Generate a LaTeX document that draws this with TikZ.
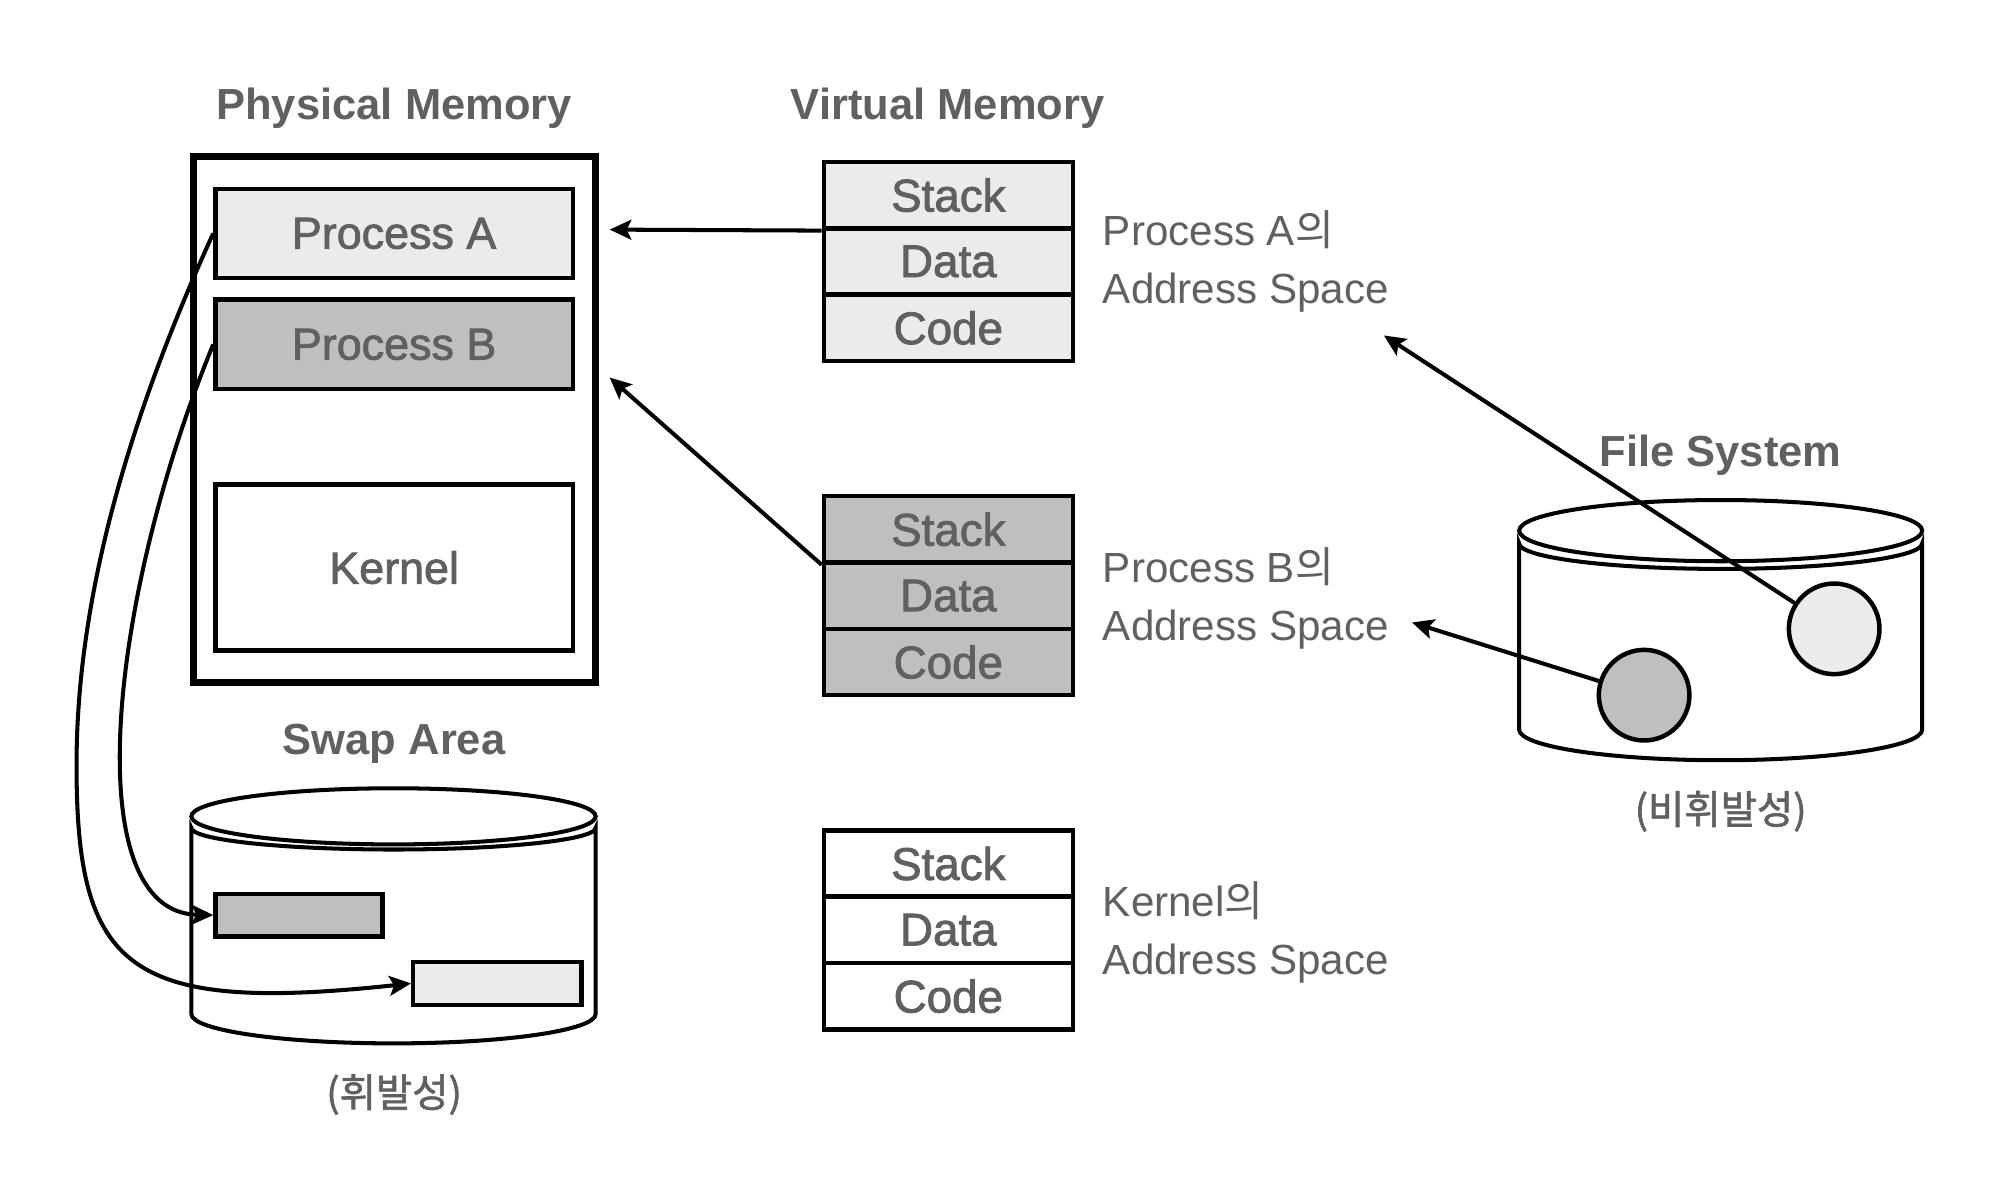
\documentclass[tikz,border=0pt]{standalone}
\usepackage{fontspec}
\setmainfont{Liberation Sans}
\newfontfamily\medium[FakeBold=1.8]{Liberation Sans}
\newfontfamily\kr{Noto Sans CJK KR}
\newfontfamily\krm[FakeBold=1.6]{Noto Sans CJK KR}
\usetikzlibrary{arrows.meta}
\definecolor{txt}{HTML}{606060}
\definecolor{lightfill}{HTML}{EBEBEB}
\definecolor{midfill}{HTML}{BFBFBF}
\begin{document}
\begin{tikzpicture}[x=0.01cm,y=-0.01cm,
  ttl/.style={text=txt,inner sep=0pt,font=\fontsize{9.7}{12}\selectfont\bfseries},
  krl/.style={text=txt,inner sep=0pt,font=\fontsize{8.8}{12}\selectfont\krm},
  side/.style={text=txt,inner sep=0pt,align=left,font=\fontsize{9.4}{12.8}\selectfont},
  box/.style={draw,line width=1pt,inner sep=0pt,text=txt,font=\fontsize{10}{12}\selectfont\medium},
  pbox/.style={box,minimum width=2.8cm,minimum height=0.7cm},
  vbox/.style={box,minimum width=1.95cm,minimum height=0.52cm,font=\fontsize{10.2}{12}\selectfont\medium},
  sbox/.style={draw,line width=1pt,inner sep=0pt,minimum height=0.335cm},
  dot/.style={circle,draw,line width=1pt,inner sep=0pt,minimum size=0.71cm},
  arr/.style={line width=0.9pt,-{Stealth[length=4.8pt,width=4.4pt,inset=1pt]}},
  cyl/.style={line width=0.9pt}
]
\useasboundingbox (0,0) rectangle (1568,941);

% ---------- Physical memory ----------
\node[ttl] (tpm) at (309,85) {Physical Memory};
\node[draw,line width=1.5pt,minimum width=3.15cm,minimum height=4.12cm,inner sep=0pt] (pmem) at (309.5,329) {};
\node[pbox,fill=lightfill] (pA) at (309,183) {Process A};
\node[pbox,fill=midfill] (pB) at (309,270) {Process B};
\node[box,minimum width=2.8cm,minimum height=1.3cm] (pK) at (309,445) {Kernel};

% ---------- Swap area ----------
\node[ttl] (tsw) at (309,583) {Swap Area};
\draw[cyl,fill=white] (150,649) -- (150,795)
  arc[start angle=180,end angle=0,x radius=158.5,y radius=23]
  -- (467,649)
  arc[start angle=0,end angle=180,x radius=158.5,y radius=17] -- cycle;
\draw[cyl,fill=white] (308.5,640) ellipse[x radius=158.5,y radius=22];
\node[sbox,fill=midfill,minimum width=1.31cm] (s1) at (234.5,717.5) {};
\node[sbox,fill=lightfill,minimum width=1.32cm] (s2) at (390,771) {};
\node[krl] (vol) at (309,858) {(휘발성)};

% ---------- Virtual memory ----------
\node[ttl] (tvm) at (743,85) {Virtual Memory};
\node[vbox,fill=lightfill] (stA) at (743.5,153) {Stack};
\node[vbox,fill=lightfill] (daA) at (743.5,205) {Data};
\node[vbox,fill=lightfill] (coA) at (743.5,257) {Code};
\node[vbox,fill=midfill] (stB) at (743.5,415) {Stack};
\node[vbox,fill=midfill] (daB) at (743.5,467) {Data};
\node[vbox,fill=midfill] (coB) at (743.5,519) {Code};
\node[vbox,fill=white] (stK) at (743.5,677) {Stack};
\node[vbox,fill=white] (daK) at (743.5,729) {Data};
\node[vbox,fill=white] (coK) at (743.5,781) {Code};

\node[side,anchor=west] (lA) at (864,205) {Process A{\kr 의}\\Address Space};
\node[side,anchor=west] (lB) at (864,469) {Process B{\kr 의}\\Address Space};
\node[side,anchor=west] (lK) at (864,731) {Kernel{\kr 의}\\Address Space};

% ---------- File system ----------
\node[ttl] (tfs) at (1349,357) {File System};
\draw[cyl,fill=white] (1191,426) -- (1191,572)
  arc[start angle=180,end angle=0,x radius=158,y radius=24]
  -- (1507,426)
  arc[start angle=0,end angle=180,x radius=158,y radius=20] -- cycle;
\draw[cyl,fill=white] (1349,416) ellipse[x radius=158,y radius=24];
\node[krl] (nvol) at (1349,636) {(비휘발성)};

% ---------- Connectors ----------
\coordinate (a1) at (478,180);
\coordinate (a2) at (478,296);
\coordinate (a3) at (1085,263);
\coordinate (a4) at (1107,488);
\draw[arr] (stA.south west) -- (a1);
\draw[arr] (stB.south west) -- (a2);

\node[dot,fill=lightfill] (c1) at (1438,493) {};
\node[dot,fill=midfill] (c2) at (1289,545) {};
\draw[arr] (c1) -- (a3);
\draw[arr] (c2) -- (a4);

\draw[arr] (pA.west) .. controls (100,330) and (60,470) .. (60,600)
  .. controls (60,760) and (100,795) .. (s2.west);
\draw[arr] (pB.west) .. controls (85,470) and (60,715) .. (s1.west);
\end{tikzpicture}
\end{document}
